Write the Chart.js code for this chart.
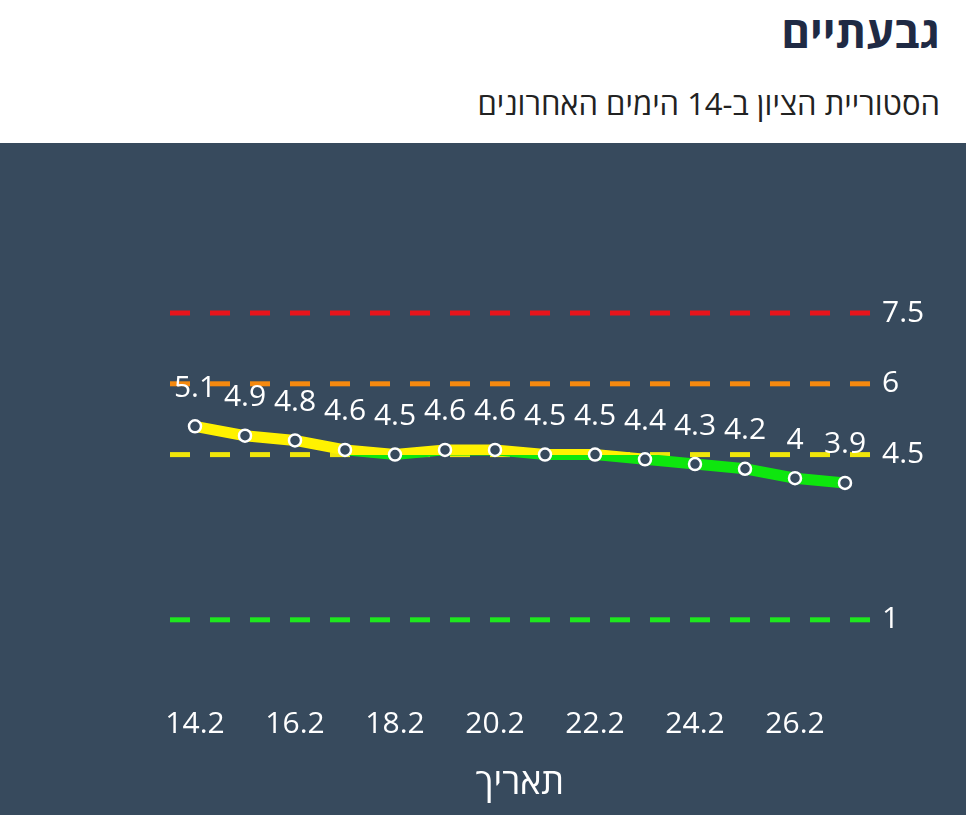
<!DOCTYPE html>
<html lang="he">
<head>
<meta charset="utf-8">
<script src="https://cdn.jsdelivr.net/npm/chart.js@4.4.0/dist/chart.umd.min.js"></script>
<style>
  html, body { margin: 0; padding: 0; background: #fff; }
  body { width: 966px; height: 815px; overflow: hidden; font-family: "Open Sans", "DejaVu Sans", sans-serif; }
  .head { height: 143px; position: relative; direction: rtl; }
  .head h1 { position: absolute; right: 26px; top: 1px; margin: 0; font-size: 44px; font-weight: 700; color: #1f2a44; }
  .head h2 { position: absolute; right: 26px; top: 82px; margin: 0; font-size: 31px; font-weight: 400; color: #222; }
  .panel { background: #374a5d; width: 966px; height: 672px; }
</style>
</head>
<body>
<div class="head">
  <h1>גבעתיים</h1>
  <h2>הסטוריית הציון ב-14 הימים האחרונים</h2>
</div>
<div class="panel"><canvas id="scoreChart" width="966" height="672"></canvas></div>
<script>
  const labels = ['14.2','15.2','16.2','17.2','18.2','19.2','20.2','21.2','22.2','23.2','24.2','25.2','26.2','27.2'];
  const scores = [5.1, 4.9, 4.8, 4.6, 4.5, 4.6, 4.6, 4.5, 4.5, 4.4, 4.3, 4.2, 4, 3.9];
  const thresholds = [7.5, 6, 4.5, 1];
  const thresholdColors = ['#e8141b', '#f5890f', '#f0e60a', '#1ee61e'];

  const panelBg = '#374a5d';
  const yellow = '#fff200';
  const green = '#0ee60e';
  const font = "'Open Sans', 'DejaVu Sans', sans-serif";

  // line is yellow above 4.5 and green below it
  function lineColor(ctx) {
    const chart = ctx.chart;
    const area = chart.chartArea;
    if (!area) return yellow;
    const y = chart.scales.y.getPixelForValue(4.5);
    const g = chart.ctx.createLinearGradient(0, area.top, 0, area.bottom);
    let s = (y - area.top) / (area.bottom - area.top);
    s = Math.min(Math.max(s, 0), 1);
    g.addColorStop(0, yellow);
    g.addColorStop(s, yellow);
    g.addColorStop(s, green);
    g.addColorStop(1, green);
    return g;
  }

  const thresholdLines = {
    id: 'thresholdLines',
    beforeDatasetsDraw(chart) {
      const c = chart.ctx, area = chart.chartArea, y = chart.scales.y;
      c.save();
      c.lineWidth = 5;
      c.setLineDash([20, 20]);
      thresholds.forEach(function(v, i) {
        const py = y.getPixelForValue(v);
        c.strokeStyle = thresholdColors[i];
        c.beginPath();
        c.moveTo(area.left, py);
        c.lineTo(area.right, py);
        c.stroke();
      });
      c.restore();
    }
  };

  const valueLabels = {
    id: 'valueLabels',
    afterDatasetsDraw(chart) {
      const c = chart.ctx;
      const meta = chart.getDatasetMeta(0);
      c.save();
      c.fillStyle = '#fff';
      c.font = '30px ' + font;
      c.textAlign = 'center';
      c.textBaseline = 'middle';
      meta.data.forEach(function(pt, i) {
        c.fillText(String(scores[i]), pt.x, pt.y - 38);
      });
      c.restore();
    }
  };

  new Chart(document.getElementById('scoreChart'), {
    type: 'line',
    data: {
      labels: labels,
      datasets: [{
        data: scores,
        borderColor: lineColor,
        borderWidth: 11,
        tension: 0,
        pointRadius: 6,
        pointBorderWidth: 2.5,
        pointBorderColor: '#fff',
        pointBackgroundColor: panelBg
      }]
    },
    options: {
      responsive: false,
      animation: false,
      layout: { padding: { left: 170, top: 52, right: 0, bottom: 0 } },
      plugins: { legend: { display: false }, tooltip: { enabled: false } },
      scales: {
        x: {
          offset: true,
          grid: { display: false, drawTicks: false },
          border: { display: false },
          ticks: {
            autoSkip: false,
            maxRotation: 0,
            padding: 39,
            color: '#fff',
            font: { size: 30, family: font },
            callback: function(v, i) { return i % 2 === 0 ? labels[i] : ''; }
          },
          title: {
            display: true,
            text: 'תאריך',
            color: '#fff',
            font: { size: 36, family: font },
            padding: { top: 0, bottom: 10 }
          },
          afterFit: function(scale) { scale.height = 148; }
        },
        y: {
          position: 'right',
          min: 0,
          max: 10,
          grid: { display: false, drawTicks: false },
          border: { display: false },
          afterBuildTicks: function(scale) { scale.ticks = thresholds.map(function(v) { return { value: v }; }); },
          afterFit: function(scale) { scale.width = 96; },
          ticks: {
            padding: 12,
            color: '#fff',
            font: { size: 30, family: font },
            callback: function(v) { return String(v); }
          }
        }
      }
    },
    plugins: [thresholdLines, valueLabels]
  });
</script>
</body>
</html>
